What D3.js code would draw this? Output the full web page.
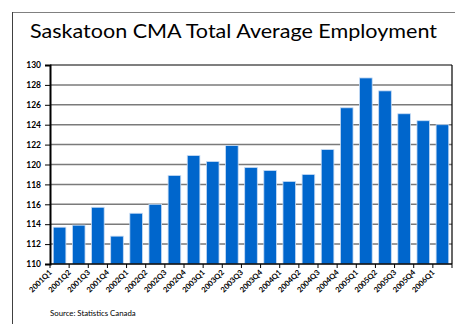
<!DOCTYPE html>
<html>
<head>
<meta charset="utf-8">
<script src="https://cdn.jsdelivr.net/npm/d3@7"></script>
<style>
  body { margin: 0; background: #fff; }
  svg { display: block; font-family: Lato, "Open Sans", sans-serif; }
</style>
</head>
<body>
<div class="chart"></div>
<script>
const quarters = ['2001Q1','2001Q2','2001Q3','2001Q4','2002Q1','2002Q2','2002Q3','2002Q4',
  '2003Q1','2003Q2','2003Q3','2003Q4','2004Q1','2004Q2','2004Q3','2004Q4',
  '2005Q1','2005Q2','2005Q3','2005Q4','2006Q1'];
const employment = [113.7, 113.9, 115.7, 112.8, 115.1, 116.0, 118.9, 120.9,
  120.3, 121.9, 119.7, 119.4, 118.3, 119.0, 121.5, 125.7,
  128.7, 127.4, 125.1, 124.4, 124.0];
const yTicks = [110, 112, 114, 116, 118, 120, 122, 124, 126, 128, 130];

const W = 455, H = 324;
const plot = {left: 50, right: 452, top: 65, bottom: 264};

const svg = d3.select('.chart').append('svg')
  .attr('width', W)
  .attr('height', H);

// outer frame (top and left edges only visible)
svg.append('line')
  .attr('x1', 12).attr('x2', W).attr('y1', 12.5).attr('y2', 12.5)
  .attr('stroke', '#808080').attr('stroke-width', 1);
svg.append('line')
  .attr('x1', 12.5).attr('x2', 12.5).attr('y1', 12).attr('y2', H)
  .attr('stroke', '#404040').attr('stroke-width', 1);

svg.append('text')
  .attr('x', 30)
  .attr('y', 38)
  .attr('font-size', 20)
  .attr('textLength', 407)
  .attr('lengthAdjust', 'spacingAndGlyphs')
  .attr('fill', '#000')
  .text('Saskatoon CMA Total Average Employment');

let xScale = d3.scaleBand()
  .domain(quarters)
  .range([plot.left, plot.right])
  .paddingInner(0.34)
  .paddingOuter(0.17);

let yScale = d3.scaleLinear()
  .domain([110, 130])
  .range([plot.bottom, plot.top]);

// gridlines
svg.append('g')
  .selectAll('line')
  .data(yTicks.slice(1, -1))
  .enter()
  .append('line')
  .attr('x1', plot.left).attr('x2', plot.right)
  .attr('y1', d => yScale(d)).attr('y2', d => yScale(d))
  .attr('stroke', '#7a7a7a')
  .attr('stroke-width', 1.5);

// plot border top / right
svg.append('line')
  .attr('x1', plot.left).attr('x2', plot.right)
  .attr('y1', plot.top).attr('y2', plot.top)
  .attr('stroke', '#000').attr('stroke-width', 1.2);
svg.append('line')
  .attr('x1', plot.right).attr('x2', plot.right)
  .attr('y1', plot.top).attr('y2', plot.bottom)
  .attr('stroke', '#000').attr('stroke-width', 1.2);

// bars
svg.append('g')
  .selectAll('rect')
  .data(quarters)
  .enter()
  .append('rect')
  .attr('x', d => xScale(d))
  .attr('y', (d, i) => yScale(employment[i]))
  .attr('width', xScale.bandwidth())
  .attr('height', (d, i) => plot.bottom - yScale(employment[i]))
  .attr('fill', '#0066cc')
  .attr('stroke', '#c8dcf4')
  .attr('stroke-width', 0.8);

// y axis
let yAxis = d3.axisLeft(yScale)
  .tickValues(yTicks)
  .tickSize(5)
  .tickPadding(4);

const yg = svg.append('g')
  .attr('class', 'axis y-axis')
  .attr('transform', `translate(${plot.left},0)`)
  .call(yAxis);
yg.select('.domain').attr('stroke', '#000').attr('stroke-width', 2);
yg.selectAll('.tick line').attr('stroke', '#000');
yg.selectAll('.tick text')
  .attr('font-size', 8.5)
  .attr('font-weight', 'bold')
  .attr('font-family', 'Lato, sans-serif')
  .attr('fill', '#000');

// x axis baseline + ticks at band boundaries
const step = xScale.step();
const boundaries = quarters.map(q => xScale(q) - xScale.paddingInner() * step / 2).concat([plot.right]);
svg.append('line')
  .attr('x1', plot.left).attr('x2', plot.right)
  .attr('y1', plot.bottom).attr('y2', plot.bottom)
  .attr('stroke', '#000').attr('stroke-width', 1.5);
svg.append('g')
  .selectAll('line')
  .data(boundaries)
  .enter()
  .append('line')
  .attr('x1', d => d).attr('x2', d => d)
  .attr('y1', plot.bottom).attr('y2', plot.bottom + 4)
  .attr('stroke', '#000');

// rotated x labels
svg.append('g')
  .selectAll('text')
  .data(quarters)
  .enter()
  .append('text')
  .attr('transform', d => `translate(${xScale(d) - 1},${plot.bottom + 9}) rotate(-45)`)
  .attr('text-anchor', 'end')
  .attr('font-size', 7.6)
  .attr('font-weight', 'bold')
  .attr('fill', '#000')
  .text(d => d);

svg.append('text')
  .attr('x', 50)
  .attr('y', 316)
  .attr('font-size', 7.8)
  .attr('fill', '#000')
  .text('Source: Statistics Canada');
</script>
</body>
</html>
